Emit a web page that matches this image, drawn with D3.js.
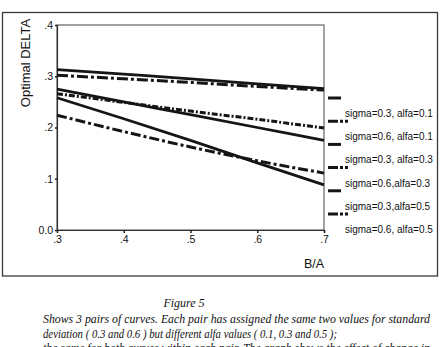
<!DOCTYPE html>
<html>
<head>
<meta charset="utf-8">
<script src="https://cdn.jsdelivr.net/npm/d3@7"></script>
<style>
  html, body { margin: 0; padding: 0; background: #fff; }
  svg { display: block; }
</style>
</head>
<body>
<svg id="chart" width="441" height="347"></svg>
<script>
// ---- data ----
const xValues = [0.3, 0.4, 0.5, 0.6, 0.7];
const seriesNames = [
  "sigma=0.3, alfa=0.1",
  "sigma=0.6, alfa=0.1",
  "sigma=0.3, alfa=0.3",
  "sigma=0.6,alfa=0.3",
  "sigma=0.3,alfa=0.5",
  "sigma=0.6, alfa=0.5"
];
const s03a01 = [0.313, 0.304, 0.295, 0.285, 0.276];
const s06a01 = [0.302, 0.295, 0.288, 0.280, 0.273];
const s03a03 = [0.275, 0.250, 0.225, 0.200, 0.175];
const s06a03 = [0.266, 0.249, 0.232, 0.216, 0.199];
const s03a05 = [0.258, 0.217, 0.175, 0.131, 0.088];
const s06a05 = [0.224, 0.192, 0.162, 0.135, 0.111];
const seriesValues = [s03a01, s06a01, s03a03, s06a03, s03a05, s06a05];
const yTicks = [0, 0.1, 0.2, 0.3, 0.4];
const yTickLabels = ["0.0", ".1", ".2", ".3", ".4"];
const xTickLabels = [".3", ".4", ".5", ".6", ".7"];
const yTitle = "Optimal DELTA";
const xTitle = "B/A";
const captionTitle = "Figure 5";
const captionLines = [
  "Shows 3 pairs of curves. Each pair has assigned the same two values for standard",
  "deviation ( 0.3 and 0.6 ) but different alfa values ( 0.1, 0.3 and 0.5 );",
  "the same for both curves within each pair. The graph shows the effect of change in"
];

// ---- styles (kept apart from data) ----
const dashes = [null, "11,3,3,3", null, "6,2,2,2", null, "10,3,3,3"];
const captionWidths = [387, 294, 387];
const ink = "#151515";

const svg = d3.select("#chart");
const plot = { left: 57, right: 324, top: 25, bottom: 230 };

const x = d3.scaleLinear().domain([0.3, 0.7]).range([plot.left, plot.right]);
const y = d3.scaleLinear().domain([0, 0.4]).range([plot.bottom, plot.top]);

// outer frame
svg.append("rect")
  .attr("x", 2.5).attr("y", 12.5).attr("width", 435).attr("height", 263.5)
  .attr("fill", "none").attr("stroke", "#3a3a3a").attr("stroke-width", 1.3);

// plot box
svg.append("rect")
  .attr("x", plot.left).attr("y", plot.top)
  .attr("width", plot.right - plot.left).attr("height", plot.bottom - plot.top)
  .attr("fill", "none").attr("stroke", "#444").attr("stroke-width", 1);

// axes
const yAxis = d3.axisLeft(y).tickValues(yTicks)
  .tickFormat((d, i) => yTickLabels[i]).tickSize(2).tickPadding(2);
const gy = svg.append("g").attr("transform", `translate(${plot.left},0)`).call(yAxis);
const xAxis = d3.axisBottom(x).tickValues(xValues)
  .tickFormat((d, i) => xTickLabels[i]).tickSize(3).tickPadding(2.5);
const gx = svg.append("g").attr("transform", `translate(0,${plot.bottom})`).call(xAxis);
[gx, gy].forEach(g => {
  g.select(".domain").attr("stroke", "#333").attr("stroke-width", 1.2);
  g.selectAll(".tick line").attr("stroke", "#222").attr("stroke-width", 1.5);
  g.selectAll("text").attr("font-family", "'Liberation Sans', Arial, sans-serif")
    .attr("font-size", 10.5).attr("fill", "#111");
});

// axis titles
svg.append("text")
  .attr("transform", "translate(30,63) rotate(-90)")
  .attr("text-anchor", "middle")
  .attr("font-family", "'Liberation Sans', Arial, sans-serif")
  .attr("font-size", 13).attr("fill", "#111")
  .text(yTitle);
svg.append("text")
  .attr("x", 314).attr("y", 268)
  .attr("text-anchor", "middle")
  .attr("font-family", "'Liberation Sans', Arial, sans-serif")
  .attr("font-size", 12.5).attr("fill", "#111")
  .text(xTitle);

// lines
const line = d3.line().x(d => x(d[0])).y(d => y(d[1])).curve(d3.curveMonotoneX);
seriesValues.forEach((vals, i) => {
  svg.append("path")
    .datum(xValues.map((xv, j) => [xv, vals[j]]))
    .attr("d", line)
    .attr("fill", "none")
    .attr("stroke", ink)
    .attr("stroke-width", i % 2 === 0 ? 2.8 : 3)
    .attr("stroke-dasharray", dashes[i]);
});

// legend
const legend = svg.append("g");
seriesNames.forEach((name, i) => {
  const sy = 98 + i * 23.2;
  legend.append("line")
    .attr("x1", 328).attr("x2", i % 2 === 0 ? 341 : 348)
    .attr("y1", sy).attr("y2", sy)
    .attr("stroke", ink).attr("stroke-width", 3)
    .attr("stroke-dasharray", i % 2 === 0 ? null : "10,2,3,2");
  legend.append("text")
    .attr("x", 345).attr("y", sy + 19)
    .attr("font-family", "'Liberation Sans', Arial, sans-serif")
    .attr("font-size", 10).attr("fill", "#111")
    .text(name);
});

// caption
svg.append("text")
  .attr("x", 184).attr("y", 307)
  .attr("text-anchor", "middle")
  .attr("font-family", "'Liberation Serif', 'Times New Roman', serif")
  .attr("font-style", "italic").attr("font-size", 12).attr("fill", "#111")
  .text(captionTitle);
captionLines.forEach((t, i) => {
  svg.append("text")
    .attr("x", 43).attr("y", 323 + i * 14.5)
    .attr("font-family", "'Liberation Serif', 'Times New Roman', serif")
    .attr("font-style", "italic").attr("font-size", 11.5).attr("fill", "#111")
    .attr("textLength", captionWidths[i])
    .attr("lengthAdjust", "spacingAndGlyphs")
    .text(t);
});
</script>
</body>
</html>
